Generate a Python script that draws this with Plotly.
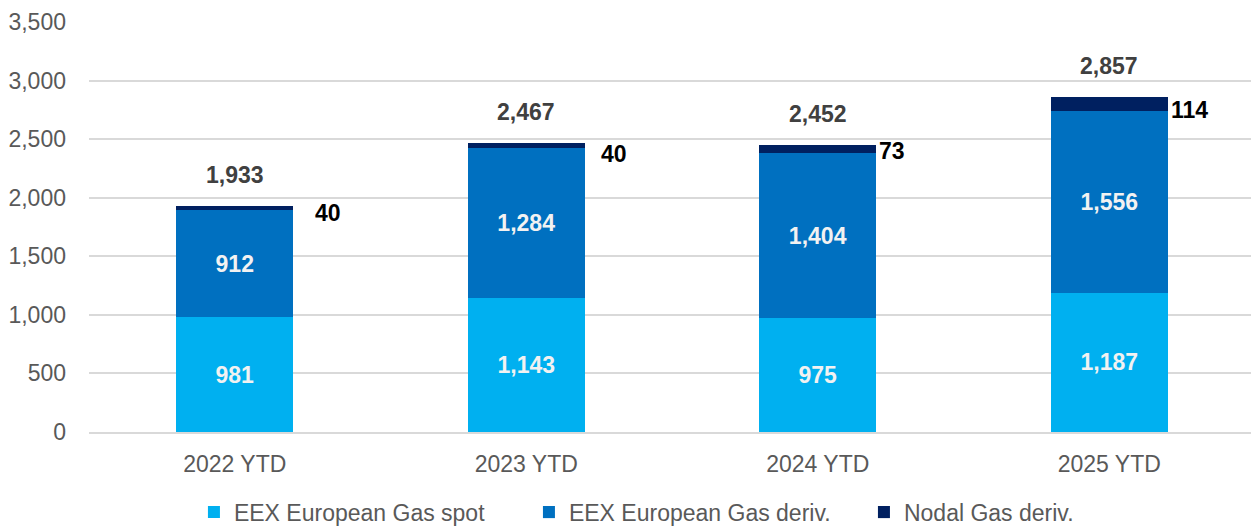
import plotly.graph_objects as go

categories = ["2022 YTD", "2023 YTD", "2024 YTD", "2025 YTD"]
gas_spot = [981, 1143, 975, 1187]
gas_deriv = [912, 1284, 1404, 1556]
nodal_deriv = [40, 40, 73, 114]
totals = [1933, 2467, 2452, 2857]
y_ticks = [0, 500, 1000, 1500, 2000, 2500, 3000, 3500]

# style: pixel offsets for the Nodal labels (manual placement as in the original)
nodal_xshift = [93, 88, 74, 80]
nodal_yshift = [-7, -11, -6, -13]

FONT = "Liberation Sans, Arial, sans-serif"
FS = 23

fig = go.Figure()
fig.add_trace(go.Bar(
    x=categories, y=gas_spot, name="EEX European Gas spot",
    marker=dict(color="#00B0F0", line=dict(width=0)),
    text=[f"{v:,}" for v in gas_spot], textposition="inside",
    insidetextanchor="middle",
    textfont=dict(color="#F2F2F2", size=FS, family=FONT, weight="bold"),
))
fig.add_trace(go.Bar(
    x=categories, y=gas_deriv, name="EEX European Gas deriv.",
    marker=dict(color="#0070C0", line=dict(width=0)),
    text=[f"{v:,}" for v in gas_deriv], textposition="inside",
    insidetextanchor="middle",
    textfont=dict(color="#F2F2F2", size=FS, family=FONT, weight="bold"),
))
fig.add_trace(go.Bar(
    x=categories, y=nodal_deriv, name="Nodal Gas deriv.",
    marker=dict(color="#002060", line=dict(width=0)),
    textposition="none",
))

for i, c in enumerate(categories):
    fig.add_annotation(
        x=c, y=totals[i], text=f"{totals[i]:,}", showarrow=False,
        yshift=31, xanchor="center", yanchor="middle",
        font=dict(size=FS, color="#404040", family=FONT, weight="bold"),
    )
    fig.add_annotation(
        x=c, y=totals[i], text=f"{nodal_deriv[i]:,}", showarrow=False,
        xshift=nodal_xshift[i], yshift=nodal_yshift[i],
        xanchor="center", yanchor="middle",
        font=dict(size=FS, color="#000000", family=FONT, weight="bold"),
    )

fig.update_layout(
    width=1256, height=528,
    barmode="stack", bargap=0.6,
    plot_bgcolor="white", paper_bgcolor="white",
    margin=dict(l=89, r=1, t=22, b=96, autoexpand=False),
    font=dict(family=FONT, size=FS, color="#595959"),
    showlegend=True,
    legend=dict(orientation="h", x=0.09, xanchor="left",
                yref="container", y=0.03, yanchor="middle",
                font=dict(size=FS, color="#595959"),
                traceorder="normal", entrywidth=290),
    xaxis=dict(showgrid=False, showline=True, linecolor="#D9D9D9",
               linewidth=2, ticks="", automargin=False,
               ticklabelstandoff=10,
               tickfont=dict(size=FS, color="#595959")),
    yaxis=dict(range=[0, 3500], tickvals=y_ticks, tickformat=",",
               showgrid=True, gridcolor="#D9D9D9", gridwidth=2,
               zeroline=False, showline=False, ticks="", automargin=False,
               ticklabelstandoff=22,
               tickfont=dict(size=FS, color="#595959")),
)

fig.write_html("out.html", config={"displayModeBar": False},
               post_script="document.body.style.margin='0';document.body.style.overflow='hidden';")
